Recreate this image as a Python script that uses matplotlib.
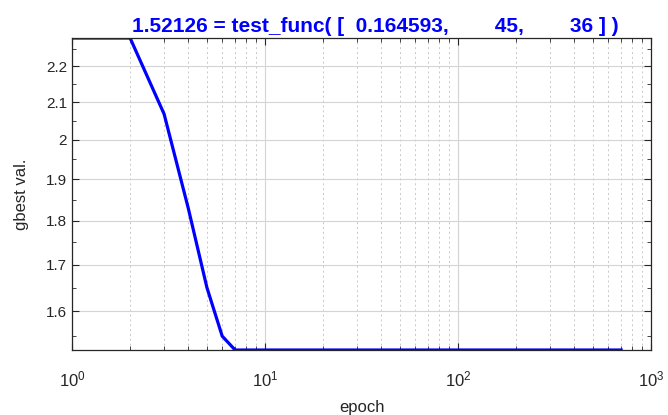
import matplotlib
matplotlib.use("Agg")
import matplotlib.pyplot as plt
from matplotlib.ticker import FixedLocator, NullFormatter, LogLocator
import numpy as np

plt.rcParams['font.family'] = ['Liberation Sans', 'DejaVu Sans']
plt.rcParams['mathtext.fontset'] = 'custom'
plt.rcParams['mathtext.rm'] = 'Liberation Sans'
plt.rcParams['mathtext.it'] = 'Liberation Sans'

# data
epochs_head = [1, 2, 3, 4, 5, 6, 7]
gbest_head = [2.283, 2.283, 2.068, 1.83, 1.65, 1.549, 1.52126]
last_epoch = 700
epochs = list(epochs_head) + list(range(8, last_epoch + 1))
gbest = list(gbest_head) + [1.52126] * (last_epoch - 7)

title_text = "1.52126 = test_func( [  0.164593,        45,        36 ] )"
y_major = [1.6, 1.7, 1.8, 1.9, 2.0, 2.1, 2.2]
y_major_labels = ['1.6', '1.7', '1.8', '1.9', '2', '2.1', '2.2']
y_minor = [1.55, 1.65, 1.75, 1.85, 1.95, 2.05, 2.15, 2.25]

fig = plt.figure(figsize=(6.68, 4.15), dpi=100)
ax = fig.add_axes([0.1078, 0.1566, 0.8668, 0.7518])

ax.plot(epochs, gbest, color='#0000ff', linewidth=2.3, solid_joinstyle='miter')
ax.set_xscale('log')
ax.set_yscale('log')
ax.set_xlim(1, 1000)
ax.set_ylim(min(gbest), max(gbest))

ax.yaxis.set_major_locator(FixedLocator(y_major))
ax.set_yticklabels(y_major_labels)
ax.yaxis.set_minor_locator(FixedLocator(y_minor))
ax.yaxis.set_minor_formatter(NullFormatter())
ax.xaxis.set_major_locator(LogLocator(base=10, numticks=10))
ax.xaxis.set_minor_locator(LogLocator(base=10, subs=np.arange(2, 10), numticks=20))
ax.xaxis.set_minor_formatter(NullFormatter())

ax.grid(True, which='major', axis='both', color='#d4d4d4', linestyle='-', linewidth=0.8)
ax.grid(True, which='minor', axis='x', color='#c8c8c8', linestyle=(0, (2, 3)), linewidth=0.7)
ax.set_axisbelow(True)

ax.tick_params(which='both', direction='in', top=True, right=True, labelsize=11, colors='#262626', labelcolor='#262626')
ax.tick_params(which='major', length=5, width=0.8)
ax.tick_params(which='minor', length=3, width=0.6)
ax.tick_params(axis='x', which='major', pad=14, labelsize=12)
for s in ax.spines.values():
    s.set_color('#262626')
    s.set_linewidth(0.9)

ax.set_xlabel('epoch', fontsize=12, color='#262626', labelpad=8)
ax.set_ylabel('gbest val.', fontsize=12, color='#262626', labelpad=12)
ax.set_title(title_text, color='#0000ff', fontsize=15, fontweight='bold', pad=4, x=0.523)

fig.savefig('out.png', dpi=100)
